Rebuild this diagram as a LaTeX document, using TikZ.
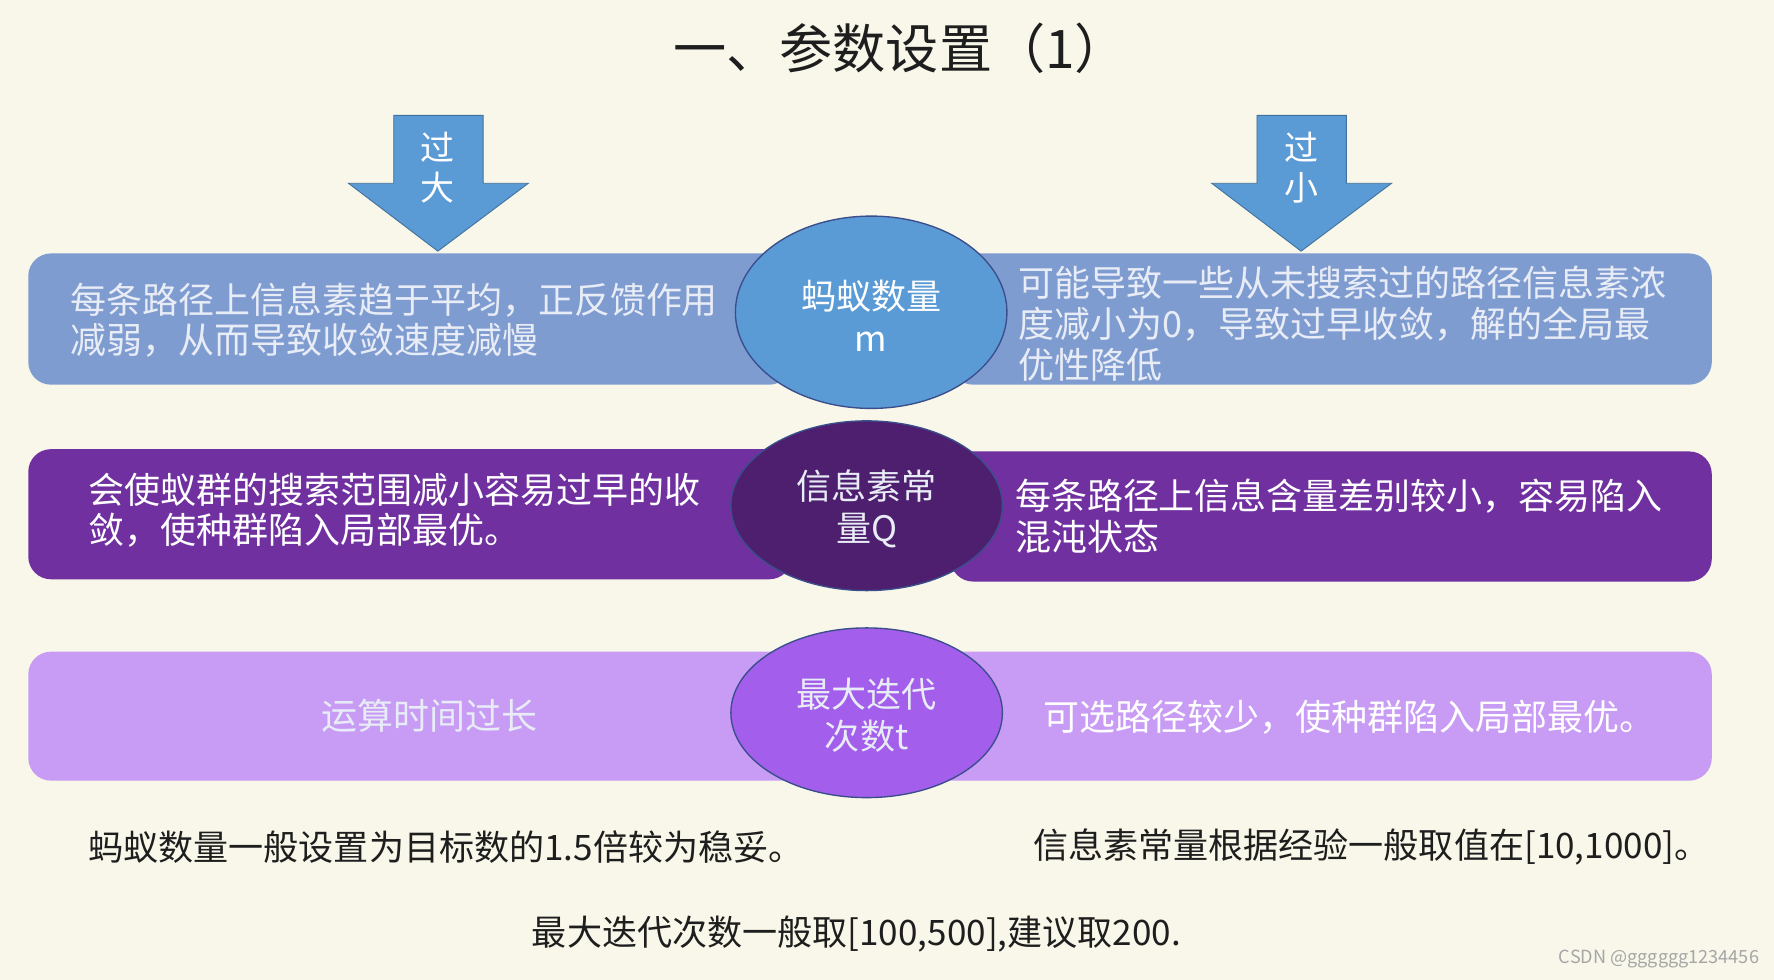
\documentclass[tikz,border=0pt]{standalone}
\usepackage{fontspec}
\setmainfont{Noto Sans CJK SC}
\usetikzlibrary{shapes.geometric}
\definecolor{bg}{HTML}{F8F7E9}
\definecolor{arrowblue}{HTML}{5B9BD5}
\definecolor{arrowedge}{HTML}{41719C}
\definecolor{rowA}{HTML}{7F9CD0}
\definecolor{ellA}{HTML}{5B9BD5}
\definecolor{rowB}{HTML}{7030A0}
\definecolor{ellB}{HTML}{4E1F6E}
\definecolor{rowC}{HTML}{C89CF4}
\definecolor{ellC}{HTML}{A35EEB}
\definecolor{elledge}{HTML}{3A4E8C}
\definecolor{softwhite}{HTML}{E8ECF6}
\definecolor{darktext}{HTML}{1E1E1E}
\tikzset{
  bandbox/.style={rounded corners=20pt, draw=none},
  oval/.style={ellipse, draw=elledge, line width=1.2pt, minimum width=240pt, inner sep=0pt},
  bodytext/.style={inner sep=0pt, align=left, font=\fontsize{31.8}{36}\selectfont},
  ovaltext/.style={inner sep=0pt, align=center, font=\fontsize{31}{37}\selectfont},
  notetext/.style={inner sep=0pt, text=darktext, font=\fontsize{31}{34}\selectfont},
  downarrow/.style={fill=arrowblue, draw=arrowedge, line width=0.8pt},
  arrowtext/.style={inner sep=0pt, text=white, align=center, font=\fontsize{30}{35}\selectfont}
}
\begin{document}
\begin{tikzpicture}[x=1pt, y=-1pt]
\fill[bg] (0,0) rectangle (1568,866);
\useasboundingbox (0,0) rectangle (1568,866);

% title
\node[inner sep=0pt, text=darktext, font=\fontsize{47}{52}\selectfont] (title) at (796,43) {一、参数设置（1）};

% arrows
\path[downarrow] (348,102) -- (427,102) -- (427,162) -- (467,162) -- (387,222) -- (308,162) -- (348,162) -- cycle;
\path[downarrow] (1111,102) -- (1190,102) -- (1190,162) -- (1230,162) -- (1150,222) -- (1071,162) -- (1111,162) -- cycle;
\node[arrowtext] (big) at (387,148) {过\\大};
\node[arrowtext] (small) at (1150,148) {过\\小};

% row 1
\fill[bandbox, rowA] (25,224) rectangle (700,340);
\fill[bandbox, rowA] (840,224) rectangle (1513,340);
\node[oval, fill=ellA, minimum height=170pt] (antnum) at (770,276) {};
\node[ovaltext, text=white] (antnumt) at (770,279) {蚂蚁数量\\m};
\node[bodytext, text=softwhite, anchor=west] (toobig1) at (62,283) {每条路径上信息素趋于平均，正反馈作用\\减弱，从而导致收敛速度减慢};
\node[bodytext, text=softwhite, anchor=west] (toosmall1) at (900,286) {可能导致一些从未搜索过的路径信息素浓\\度减小为0，导致过早收敛，解的全局最\\优性降低};

% row 2
\fill[bandbox, rowB] (25,397) rectangle (700,512);
\fill[bandbox, rowB] (840,399) rectangle (1513,514);
\node[oval, fill=ellB, minimum height=150pt] (phero) at (766,447) {};
\node[ovaltext, text=softwhite] (pherot) at (766,450) {信息素常\\量Q};
\node[bodytext, text=white, anchor=west] (toobig2) at (78,451) {会使蚁群的搜索范围减小容易过早的收\\敛，使种群陷入局部最优。};
\node[bodytext, text=white, anchor=west] (toosmall2) at (897,456) {每条路径上信息含量差别较小，容易陷入\\混沌状态};

% row 3
\fill[bandbox, rowC] (25,576) rectangle (1513,690);
\node[oval, fill=ellC, minimum height=150pt] (iter) at (766,630) {};
\node[ovaltext, text=softwhite] (itert) at (766,632) {最大迭代\\次数t};
\node[bodytext, text=softwhite, anchor=center] (toobig3) at (380,633) {运算时间过长};
\node[bodytext, text=white, anchor=west] (toosmall3) at (922,634) {可选路径较少，使种群陷入局部最优。};

% notes
\node[notetext, anchor=west] (note1) at (78,749) {蚂蚁数量一般设置为目标数的1.5倍较为稳妥。};
\node[notetext, anchor=west] (note2) at (913,749) {信息素常量根据经验一般取值在[10,1000]。};
\node[notetext] (note3) at (757,826) {最大迭代次数一般取[100,500],建议取200.};

% watermark
\node[inner sep=0pt, anchor=east, text=black!35, font=\fontsize{16}{18}\selectfont] (mark) at (1555,848) {CSDN @gggggg1234456};
\end{tikzpicture}
\end{document}
